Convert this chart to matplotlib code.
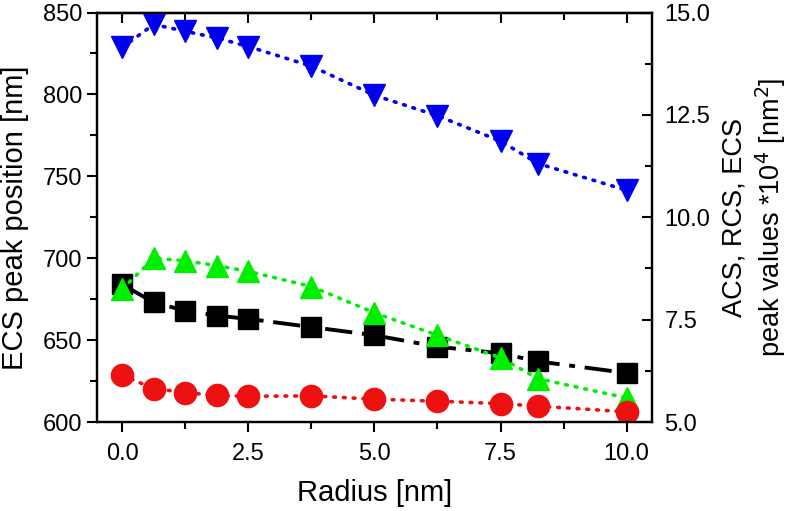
import matplotlib
matplotlib.use("Agg")
import matplotlib.pyplot as plt
from matplotlib.ticker import MultipleLocator, NullFormatter

plt.rcParams['font.family'] = ['Liberation Sans', 'DejaVu Sans']

radius = [0, 0.625, 1.25, 1.875, 2.5, 3.75, 5, 6.25, 7.5, 8.25, 10]
ecs_pos = [684, 673, 668, 665, 663, 658, 653, 646, 642, 637, 630]
ecs_peak = [14.15, 14.71, 14.54, 14.38, 14.17, 13.69, 12.98, 12.48, 11.86, 11.31, 10.66]
acs_peak = [8.25, 9.0, 8.94, 8.82, 8.68, 8.31, 7.67, 7.12, 6.57, 6.06, 5.59]
rcs_peak = [6.14, 5.82, 5.72, 5.65, 5.63, 5.64, 5.56, 5.51, 5.45, 5.39, 5.25]

fig = plt.figure(figsize=(7.92, 5.11), dpi=100)
ax = fig.add_axes([0.1225, 0.174, 0.7005, 0.8015])
ax2 = ax.twinx()

ax.plot(radius, ecs_pos, color='black', lw=2.8, dashes=[7, 2.5, 1.5, 2.5],
        marker='s', ms=14, zorder=3)
dots = (0, (0.5, 2.2))
ax2.plot(radius, ecs_peak, color='#0000ee', lw=2.6, ls=dots,
         dash_capstyle='round', marker='v', ms=16)
ax2.plot(radius, acs_peak, color='#00ee00', lw=2.6, ls=dots,
         dash_capstyle='round', marker='^', ms=16)
ax2.plot(radius, rcs_peak, color='#ee1111', lw=2.6, ls=dots,
         dash_capstyle='round', marker='o', ms=16)

ax.set_xlim(-0.5, 10.5)
ax.set_ylim(600, 850)
ax2.set_ylim(5.0, 15.0)

ax.xaxis.set_major_locator(MultipleLocator(2.5))
ax.xaxis.set_minor_locator(MultipleLocator(1.25))
ax.yaxis.set_major_locator(MultipleLocator(50))
ax.yaxis.set_minor_locator(MultipleLocator(25))
ax2.yaxis.set_major_locator(MultipleLocator(2.5))
ax2.yaxis.set_minor_locator(MultipleLocator(1.25))
ax.xaxis.set_major_formatter(lambda v, p: f"{v:.1f}")
ax2.yaxis.set_major_formatter(lambda v, p: f"{v:.1f}")

# top axis: ticks pointing inward, no labels
top = ax.secondary_xaxis('top')
top.xaxis.set_major_locator(MultipleLocator(2.5))
top.xaxis.set_minor_locator(MultipleLocator(1.25))
top.xaxis.set_major_formatter(NullFormatter())
top.tick_params(which='both', direction='in', width=1.5)
top.tick_params(which='major', length=7)
top.tick_params(which='minor', length=5)
top.spines['top'].set_linewidth(1.6)

ax.tick_params(axis='x', which='both', direction='out', labelsize=17, width=1.5, pad=8)
ax.tick_params(axis='x', which='major', length=7)
ax.tick_params(axis='x', which='minor', length=5)
ax.tick_params(axis='y', which='both', direction='out', labelsize=17, width=1.5)
ax.tick_params(axis='y', which='major', length=7)
ax.tick_params(axis='y', which='minor', length=5)
ax2.tick_params(axis='y', which='both', direction='in', labelsize=17, width=1.5, pad=9)
ax2.tick_params(axis='y', which='major', length=7)
ax2.tick_params(axis='y', which='minor', length=5)

for a in (ax, ax2):
    for s in a.spines.values():
        s.set_linewidth(1.6)

ax.set_xlabel("Radius [nm]", fontsize=21, labelpad=10)
ax.set_ylabel("ECS peak position [nm]", fontsize=21, labelpad=10)
ax2.set_ylabel("ACS, RCS, ECS\npeak values *10$^4$ [nm$^2$]", fontsize=19.5,
               labelpad=8, linespacing=1.25)

fig.savefig("out.png", dpi=100)
